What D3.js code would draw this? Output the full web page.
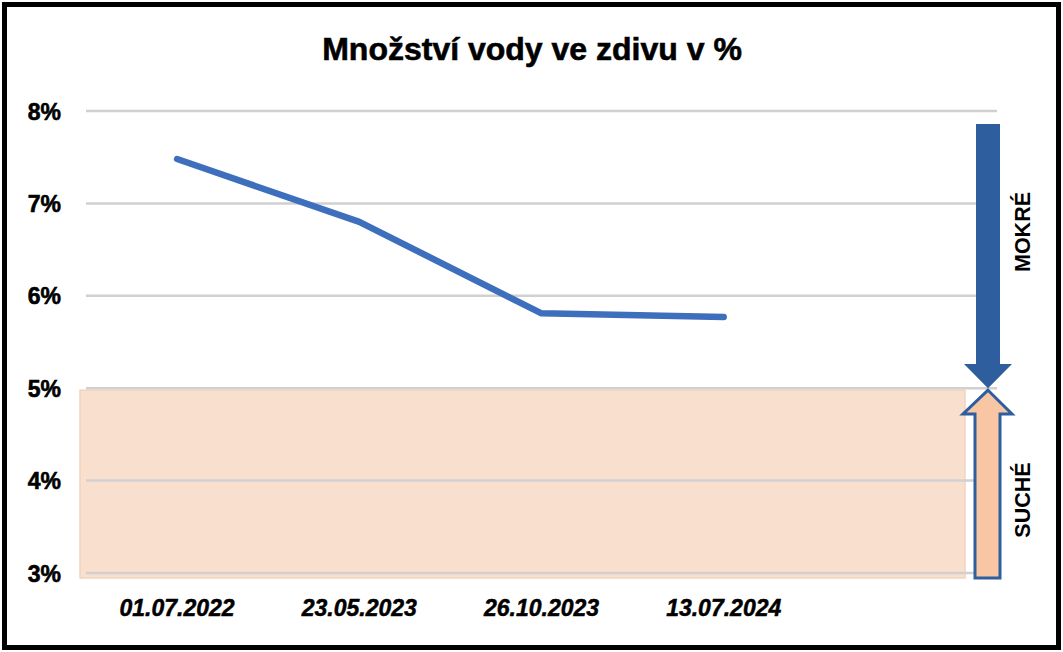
<!DOCTYPE html>
<html><head><meta charset="utf-8">
<script src="https://cdn.jsdelivr.net/npm/d3@7"></script>
<style>body{margin:0;background:#fff}svg{display:block}</style>
</head><body>
<svg id="c" width="1063" height="652"></svg>
<script>
const title = "Množství vody ve zdivu v %";
const categories = ["01.07.2022", "23.05.2023", "26.10.2023", "13.07.2024", ""];
const values = [7.48, 6.8, 5.81, 5.77];
const yTicks = [3, 4, 5, 6, 7, 8];
const dryBand = [3, 5];
const wetLabel = "MOKRÉ";
const dryLabel = "SUCHÉ";

const svg = d3.select("#c");
const W = 1063, H = 652;
svg.append("rect").attr("x", 4.5).attr("y", 4.5).attr("width", W - 9).attr("height", H - 9)
  .attr("fill", "#fff").attr("stroke", "#000").attr("stroke-width", 5);

const x = d3.scaleBand().domain(categories).range([86, 997]);
const y = d3.scaleLinear().domain([3, 8]).range([573, 111]);

// dry band
svg.append("rect").attr("x", 80).attr("y", y(dryBand[1]) + 2)
  .attr("width", 885).attr("height", y(dryBand[0]) - y(dryBand[1]) + 3)
  .attr("fill", "#f9dfcd").attr("stroke", "#f1d3bf").attr("stroke-width", 1.5);

// gridlines
svg.append("g").selectAll("line").data(yTicks).join("line")
  .attr("x1", 86).attr("x2", 997).attr("y1", d => y(d)).attr("y2", d => y(d))
  .attr("stroke", "#d0d0d0").attr("stroke-width", 2.5);

// y axis labels
const yAxis = d3.axisLeft(y).tickValues(yTicks).tickFormat(d => d + "%").tickSize(0).tickPadding(0);
const ga = svg.append("g").attr("transform", "translate(61,0)").call(yAxis);
ga.select(".domain").remove();
ga.selectAll("text").attr("font-family", "Liberation Sans, Arial, sans-serif")
  .attr("font-weight", "bold").attr("font-size", 23).attr("fill", "#000")
  .attr("stroke", "#000").attr("stroke-width", 0.6).attr("dy", "0.35em");

// x axis labels
const xAxis = d3.axisBottom(x).tickSize(0).tickPadding(0);
const gx = svg.append("g").attr("transform", "translate(0,608)").call(xAxis);
gx.select(".domain").remove();
gx.selectAll("text").attr("font-family", "Liberation Sans, sans-serif")
  .attr("font-weight", "bold").attr("font-style", "italic").attr("font-size", 23)
  .attr("fill", "#000").attr("stroke", "#000").attr("stroke-width", 0.5).attr("dy", "0.35em");

// line
const line = d3.line().x((d, i) => x(categories[i]) + x.bandwidth() / 2).y(d => y(d));
svg.append("path").datum(values).attr("d", line).attr("fill", "none")
  .attr("stroke", "#3d6fbd").attr("stroke-width", 6.5).attr("stroke-linecap", "round")
  .attr("stroke-linejoin", "round");

// title
svg.append("text").attr("x", 532).attr("y", 52).attr("text-anchor", "middle")
  .attr("dominant-baseline", "middle")
  .attr("font-family", "Liberation Sans, sans-serif")
  .attr("font-weight", "bold").attr("font-size", 32).attr("fill", "#000")
  .attr("stroke", "#000").attr("stroke-width", 0.6).text(title);

// arrows
const cx = 988;
const tip = y(5);
const down = d3.path();
down.moveTo(976, 124); down.lineTo(1000, 124); down.lineTo(1000, 364);
down.lineTo(1012, 364); down.lineTo(cx, tip); down.lineTo(964, 364);
down.lineTo(976, 364); down.closePath();
svg.append("path").attr("d", down.toString()).attr("fill", "#2e5e9e");

const up = d3.path();
up.moveTo(cx, tip + 2); up.lineTo(1012, 414); up.lineTo(1000, 414);
up.lineTo(1000, 578); up.lineTo(975, 578); up.lineTo(975, 414);
up.lineTo(963, 414); up.closePath();
svg.append("path").attr("d", up.toString()).attr("fill", "#f8c6a2")
  .attr("stroke", "#2e5e9e").attr("stroke-width", 3);

function vlabel(t, cy) {
  svg.append("text").attr("transform", `translate(1024,${cy}) rotate(-90)`)
    .attr("text-anchor", "middle").attr("dominant-baseline", "middle")
    .attr("font-family", "Liberation Sans, Arial, sans-serif").attr("font-weight", "bold")
    .attr("font-size", 21.5).attr("fill", "#000").text(t);
}
vlabel(wetLabel, 232);
vlabel(dryLabel, 500);
</script>
</body></html>
